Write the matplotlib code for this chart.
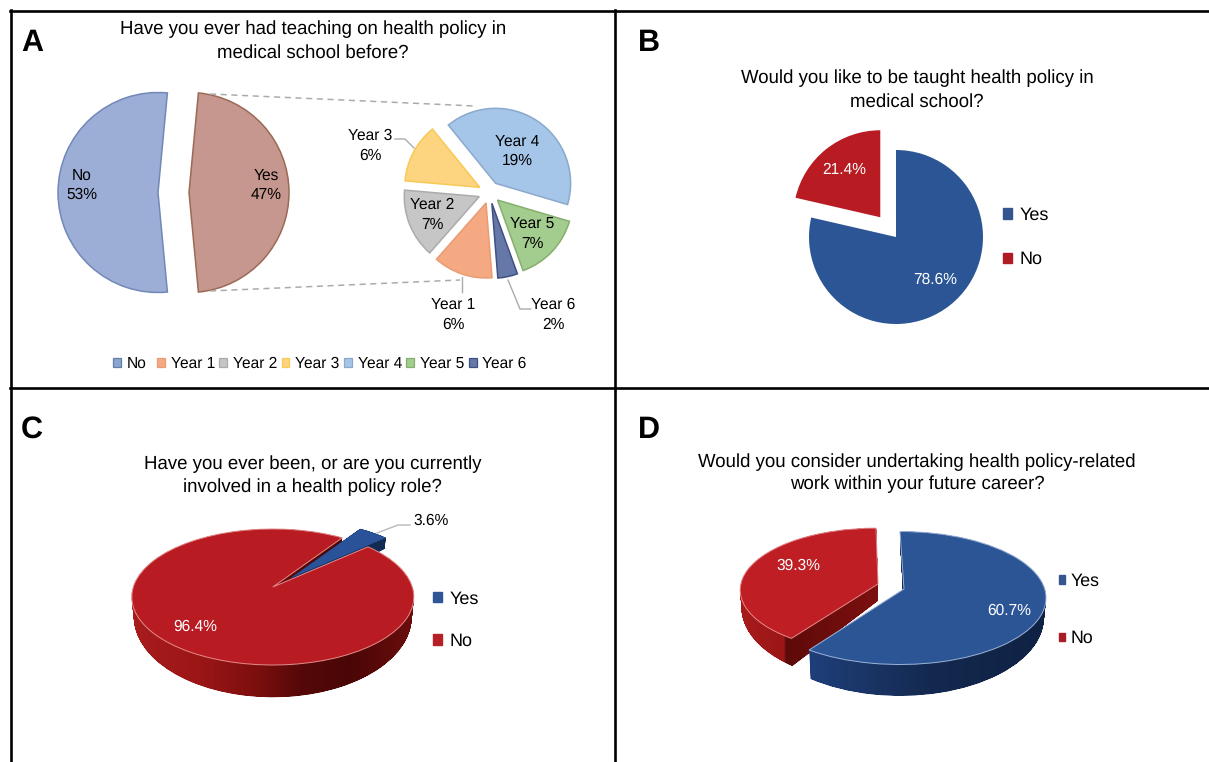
import numpy as np
import matplotlib
matplotlib.use("Agg")
import matplotlib.pyplot as plt
from matplotlib.colors import to_rgb
from matplotlib.lines import Line2D
from matplotlib.patches import Patch
from matplotlib.path import Path
from matplotlib.transforms import Affine2D

# ---------- data ----------
main_labels = ["No", "Yes"]
main_values = [53, 47]
year_labels = ["Year 1", "Year 2", "Year 3", "Year 4", "Year 5", "Year 6"]
year_values = [6, 7, 6, 19, 7, 2]
taught_values = [78.6, 21.4]
role_values = [3.6, 96.4]
career_values = [60.7, 39.3]
yes_no = ["Yes", "No"]
title_a = "Have you ever had teaching on health policy in\nmedical school before?"
title_b = "Would you like to be taught health policy in\nmedical school?"
title_c = "Have you ever been, or are you currently\ninvolved in a health policy role?"
title_d = "Would you consider undertaking health policy-related\nwork within your future career?"

# ---------- set-up ----------
W, H = 1209, 762
plt.rcParams["font.family"] = ["Liberation Sans", "DejaVu Sans"]
plt.rcParams["text.hinting"] = "no_hinting"
fig = plt.figure(figsize=(W / 100, H / 100), dpi=100, facecolor="white")
px = Affine2D().scale(1 / W, -1 / H).translate(0, 1) + fig.transFigure
K = 1.6
BLUE, RED = "#2C5596", "#B81C22"


def mk_ax(cx, cy, rx, ry):
    return fig.add_axes([(cx - K * rx) / W, 1 - (cy + K * ry) / H, 2 * K * rx / W, 2 * K * ry / H])


def finish(ax):
    ax.set_aspect("auto")
    ax.set_xlim(-K, K)
    ax.set_ylim(-K, K)
    ax.axis("off")


def label(x, y, s, size=11.2, color="black", spacing=1.4, **kw):
    fig.text(x, y, s, transform=px, ha="center", va="center", fontsize=size, color=color,
             linespacing=spacing, **kw)


def line(xs, ys, color="#ababab", lw=1.0, ls="-"):
    fig.add_artist(Line2D(xs, ys, transform=px, color=color, lw=lw, ls=ls))


def one_slice(ax, values, idx, start, color, center=(0, 0), radius=1.0, tip=(0, 0), z=2,
              edge="none", lw=0):
    wedges, _ = ax.pie(values, startangle=start, counterclock=False, center=center, radius=radius,
                       colors=[color] * len(values),
                       wedgeprops=dict(zorder=z, edgecolor=edge, linewidth=lw))
    for i, w in enumerate(wedges):
        if i != idx:
            w.remove()
    w = wedges[idx]
    w.get_path().vertices[-2:] += np.asarray(tip)
    return w


def side_wall(ax, wedge, center, drop, sy, sx, stops, z):
    """Extrude a wedge downward and paint the wall with a left-to-right colour ramp."""
    base = wedge.get_path()
    paths = []
    for t in np.linspace(0, 1, 70):
        aff = (Affine2D().translate(-center[0], -center[1])
               .scale(1 + t * (sx - 1), 1 + t * (sy - 1))
               .translate(center[0], center[1] - t * drop))
        paths.append(base.transformed(aff))
    wedge.remove()
    compound = Path.make_compound_path(*paths)
    xs = np.linspace(-K, K, 900)
    pos = [s[0] for s in stops]
    rgb = np.array([to_rgb(s[1]) for s in stops])
    ramp = np.stack([np.interp(xs, pos, rgb[:, c]) for c in range(3)], axis=1)[None, :, :]
    im = ax.imshow(ramp, extent=(-K, K, -K, K), aspect="auto", zorder=z, interpolation="bilinear")
    im.set_clip_path(compound, transform=ax.transData)


def legend(handles, labels, x, y, size, spacing, hsize=0.5, **kw):
    return fig.legend(handles, labels, loc="center left", bbox_to_anchor=(x, y),
                      bbox_transform=px, frameon=False, fontsize=size, borderpad=0,
                      borderaxespad=0, labelspacing=spacing, handlelength=hsize,
                      handleheight=hsize, **kw)


# ---------- frames ----------
for xs, ys in [([11, 11], [10, 762]), ([615, 615], [10, 762]),
               ([10, 1209], [11, 11]), ([10, 1209], [388, 388])]:
    line(xs, ys, color="black", lw=1.9)
for s, x, y in [("A", 32, 43), ("B", 649, 43), ("C", 32, 430), ("D", 649, 430)]:
    label(x, y, s, size=22, fontweight="bold")

label(313, 41, title_a, size=13.4, spacing=1.42)
label(917, 90, title_b, size=13.4, spacing=1.42)
label(312.5, 475.5, title_c, size=13.4, spacing=1.42)
label(917, 473.5, title_d, size=13.4, spacing=1.3)

# ---------- panel A ----------
ax = mk_ax(173.5, 192.5, 100, 100)
ax.pie(main_values, explode=[0.155, 0.155], startangle=84.6, counterclock=True,
       colors=["#9CADD6", "#C6978E"],
       wedgeprops=dict(linewidth=1.1))
ax.patches[0].set_edgecolor("#7288B8")
ax.patches[1].set_edgecolor("#9A6A55")
finish(ax)

year_face = ["#F5A983", "#C6C6C6", "#FDD480", "#A5C6E8", "#A3CD8E", "#6678A8"]
year_edge = ["#E99C74", "#ABABAB", "#F7CA55", "#8AA9CC", "#86AE6E", "#3F5082"]
ax = mk_ax(489.5, 192.5, 75, 75)
ax.pie(year_values, explode=[0.147] * 6, startangle=-85.4, counterclock=False, colors=year_face,
       wedgeprops=dict(linewidth=1.1))
for w, e in zip(ax.patches, year_edge):
    w.set_edgecolor(e)
finish(ax)

line([210, 475], [94, 106], ls=(0, (4, 3)), lw=1.1)
line([210, 460], [291, 280], ls=(0, (4, 3)), lw=1.1)
line([395, 405, 414], [139, 139, 148])
line([461.7, 461.7], [277, 292])
line([508, 520, 530.7], [280, 309, 309])

label(82, 185, f"{main_labels[0]}\n{main_values[0]}%")
label(266, 185, f"{main_labels[1]}\n{main_values[1]}%")
pos_a = {"Year 1": (453, 314.5), "Year 2": (432, 214.5), "Year 3": (370, 145.5),
         "Year 4": (517, 151), "Year 5": (532, 233.5), "Year 6": (553, 314.5)}
for name, val in zip(year_labels, year_values):
    label(*pos_a[name], f"{name}\n{val}%")

legend([Patch(facecolor="#8CA5CF", edgecolor="#5F7EA8", linewidth=0.9)], [main_labels[0]],
       113, 364, 11.2, 0, handletextpad=0.38)
handles_y = [Patch(facecolor=f, edgecolor=e, linewidth=0.9) for f, e in zip(year_face, year_edge)]
legend(handles_y, year_labels, 157, 364, 11.2, 0, ncols=6, columnspacing=0.28, handletextpad=0.38)

# ---------- panel B ----------
ax = mk_ax(896, 237, 87, 87)
ax.pie(taught_values, explode=[0, 0.29], startangle=90, counterclock=False, colors=[BLUE, RED])
finish(ax)
label(844, 170, f"{taught_values[1]}%", color="white")
label(935, 280, f"{taught_values[0]}%", color="white")
legend([Patch(color="#34558F"), Patch(color="#B01C26")], yes_no, 1003, 237.5, 13, 1.52,
       handletextpad=0.4)

# ---------- panel C ----------
rx, ry = 141, 68
cx, cy = 272.8, 597
ax = mk_ax(cx, cy, rx, ry)
X = lambda v: (v - cx) / rx
tip_c = (0, 10 / ry)
blue_c = (18 / rx, 9 / ry)
wall = one_slice(ax, role_values, 1, 60.5, RED, tip=tip_c)
side_wall(ax, wall, (0, 0), 20 / ry, 1.18, 0.985,
          [(X(132), "#A81C1C"), (X(200), "#9C1616"), (X(260), "#7A0E0E"), (X(300), "#560808"),
           (X(350), "#4A0606"), (X(412), "#6B0D0D")], 1)
wall = one_slice(ax, role_values, 0, 60.5, "#16305F", center=blue_c, tip=tip_c)
side_wall(ax, wall, blue_c, 20 / ry, 1.18, 0.985, [(-K, "#16305F"), (K, "#12284F")], 2)
one_slice(ax, role_values, 0, 60.5, "#2A5298", center=blue_c, tip=tip_c, z=3)
one_slice(ax, role_values, 1, 60.5, RED, tip=tip_c, z=4, edge="#E58C8C", lw=0.7)
finish(ax)
line([377, 398, 410], [533, 525, 525], color="#b8b8b8")
label(431, 521, f"{role_values[0]}%", size=11.2)
label(195, 627, f"{role_values[1]}%", color="white")
legend([Patch(color="#2F5597"), Patch(color="#B51F26")], yes_no, 433, 620, 13, 1.42,
       handletextpad=0.42)

# ---------- panel D ----------
rx, ry = 146, 66.5
cx, cy = 900, 598
ax = mk_ax(cx, cy, rx, ry)
X = lambda v: (v - cx) / rx
red_c = (-24 / rx, 8 / ry)
red_tip = (2 / rx, 6 / ry)
blue_tip = (4 / rx, 9 / ry)
wall = one_slice(ax, career_values, 1, 90, RED, center=red_c, radius=0.93, tip=red_tip)
side_wall(ax, wall, red_c, 18 / ry, 1.2, 0.99,
          [(X(740), "#A81B1B"), (X(784), "#9C1616"), (X(786), "#5E0A0A"), (X(878), "#7D1010")], 1)
one_slice(ax, career_values, 1, 90, "#BE1E24", center=red_c, radius=0.93, tip=red_tip, z=2,
          edge="#E58C8C", lw=0.7)
wall = one_slice(ax, career_values, 0, 90, "#16305F", tip=blue_tip)
side_wall(ax, wall, (0, 0), 20 / ry, 1.17, 0.985,
          [(X(812), "#1F3F7A"), (X(930), "#14294F"), (X(1046), "#0F2244")], 3)
one_slice(ax, career_values, 0, 90, BLUE, tip=blue_tip, z=4, edge="#9DB4D8", lw=0.7)
finish(ax)
label(798, 566, f"{career_values[1]}%", color="white")
label(1009.5, 610.5, f"{career_values[0]}%", color="white")
legend([Patch(color="#34558F"), Patch(color="#A81C26")], yes_no, 1059, 610, 12.8, 2.28,
       hsize=0.36, handletextpad=0.3)

fig.savefig("out.png", dpi=100)
